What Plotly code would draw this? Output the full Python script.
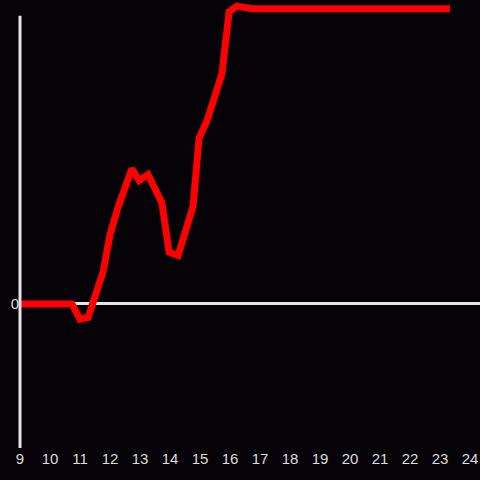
import plotly.graph_objects as go

# hours of day and value (arbitrary units, 0 = baseline)
hours = [9.0, 10.73, 11.0, 11.27, 11.77, 12.0, 12.27, 12.73, 12.97, 13.27,
         13.73, 13.97, 14.27, 14.77, 14.97, 15.23, 15.73, 15.97, 16.23, 16.73, 23.33]
values = [0, 0, -5.2, -4.6, 10.9, 23.5, 33, 46, 42, 44,
          34.4, 17.6, 16.5, 33.2, 56.5, 62.2, 78.2, 99.4, 101.3, 100.4, 100.4]
x_ticks = list(range(9, 25))

fig = go.Figure()
fig.add_trace(go.Scatter(x=hours, y=values, mode="lines",
                         line=dict(color="#ff0000", width=7), hoverinfo="skip"))

# y axis line (does not reach the top of the plot)
fig.add_shape(type="line", xref="paper", x0=0, x1=0, yref="y", y0=-49, y1=98,
              line=dict(color="#e6e6e6", width=3))

fig.update_layout(
    width=480, height=480,
    margin=dict(l=20, r=0, t=0, b=32, pad=0, autoexpand=False),
    paper_bgcolor="#050307", plot_bgcolor="#050307",
    showlegend=False,
    font=dict(family="Liberation Sans, Arial", size=15, color="#dddddd"),
    xaxis=dict(range=[9, 24.333], tickvals=x_ticks, showgrid=False, automargin=False,
               zeroline=False, showline=False, ticks=""),
    yaxis=dict(range=[-49, 103.4], tickvals=[0], showgrid=False, automargin=False,
               zeroline=True, zerolinecolor="#e6e6e6", zerolinewidth=3,
               showline=False, ticks=""),
)

# drop the default page margin so the figure sits at the window corner
fig.write_html("out.html", config={"displayModeBar": False},
               post_script="document.body.style.margin='0';")
